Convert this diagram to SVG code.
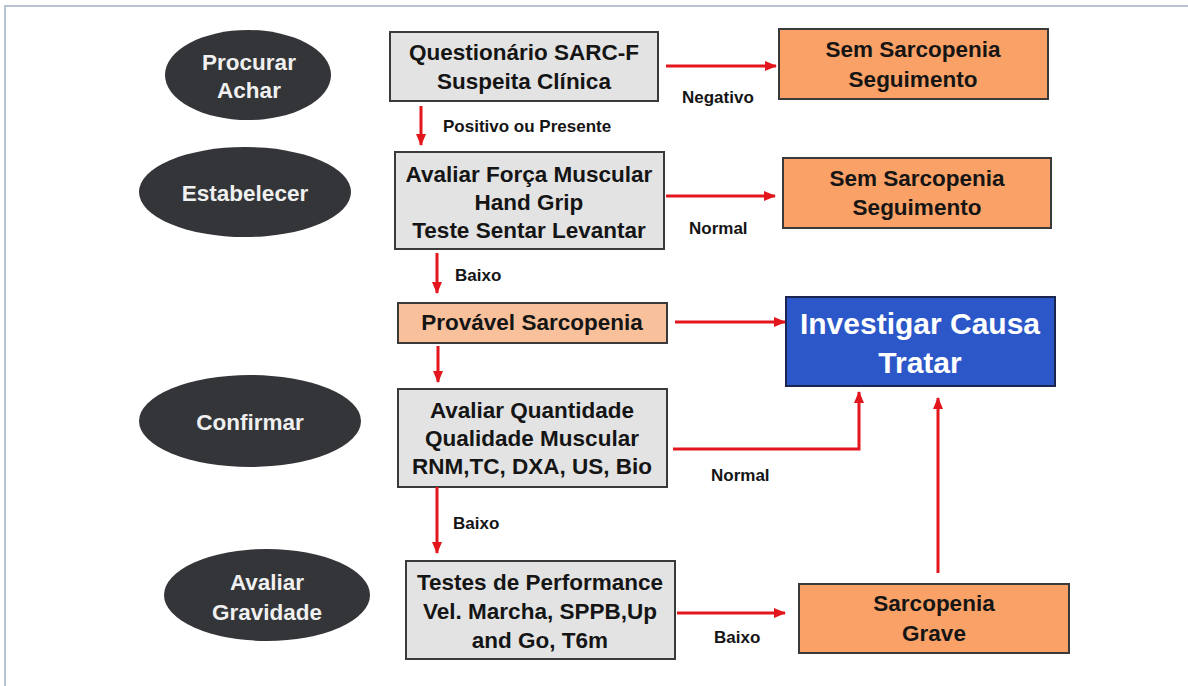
<svg xmlns="http://www.w3.org/2000/svg" width="1188" height="686" viewBox="0 0 1188 686">
<defs>
<marker id="ah" markerUnits="userSpaceOnUse" markerWidth="12" markerHeight="10" refX="11" refY="5" orient="auto">
<path d="M0,0 L12,5 L0,10 Z" fill="#e3161d"/>
</marker>
<style>
.ell{fill:#333538}
.et{fill:#f0f0f0;font-family:"Liberation Sans",Arial,sans-serif;font-weight:bold;font-size:22.5px;text-anchor:middle}
.gray{fill:#e3e3e3;stroke:#3a3a3a;stroke-width:2}
.org{fill:#f9a166;stroke:#3a3a3a;stroke-width:2}
.peach{fill:#f8c19c;stroke:#3a3a3a;stroke-width:2}
.blue{fill:#2b57c9;stroke:#1b2550;stroke-width:2}
.bt{fill:#151515;font-family:"Liberation Sans",Arial,sans-serif;font-weight:bold;font-size:22.5px;text-anchor:middle}
.wt{fill:#ffffff;font-family:"Liberation Sans",Arial,sans-serif;font-weight:bold;font-size:30px;text-anchor:middle}
.lbl{fill:#151515;font-family:"Liberation Sans",Arial,sans-serif;font-weight:bold;font-size:17px}
.con{fill:none;stroke:#e3161d;stroke-width:3;marker-end:url(#ah)}
</style>
</defs>
<rect x="0" y="0" width="1188" height="686" fill="#ffffff"/>
<path d="M5,686 V6 H1188" fill="none" stroke="#b9c3d6" stroke-width="2"/>

<g id="procurar"><ellipse class="ell" cx="248" cy="75" rx="83" ry="45"/><text class="et" x="249" y="70">Procurar</text><text class="et" x="249" y="98">Achar</text></g>
<g id="estabelecer"><ellipse class="ell" cx="245" cy="192" rx="106" ry="45"/><text class="et" x="245" y="201">Estabelecer</text></g>
<g id="confirmar"><ellipse class="ell" cx="250" cy="421" rx="111" ry="46"/><text class="et" x="250" y="430">Confirmar</text></g>
<g id="avaliar-gravidade"><ellipse class="ell" cx="267" cy="595" rx="103" ry="46"/><text class="et" x="267" y="590">Avaliar</text><text class="et" x="267" y="620">Gravidade</text></g>

<g id="questionario"><rect class="gray" x="390" y="32" width="268" height="69"/><text class="bt" x="524" y="60">Questionário SARC-F</text><text class="bt" x="524" y="89">Suspeita Clínica</text></g>
<g id="sem1"><rect class="org" x="779" y="29" width="269" height="70"/><text class="bt" x="913" y="57">Sem Sarcopenia</text><text class="bt" x="913" y="87">Seguimento</text></g>
<g id="forca"><rect class="gray" x="395" y="152" width="269" height="97"/><text class="bt" x="529" y="182">Avaliar Força Muscular</text><text class="bt" x="529" y="210">Hand Grip</text><text class="bt" x="529" y="238">Teste Sentar Levantar</text></g>
<g id="sem2"><rect class="org" x="783" y="158" width="268" height="70"/><text class="bt" x="917" y="186">Sem Sarcopenia</text><text class="bt" x="917" y="215">Seguimento</text></g>
<g id="provavel"><rect class="peach" x="398" y="303" width="269" height="40"/><text class="bt" x="532" y="330">Provável Sarcopenia</text></g>
<g id="investigar"><rect class="blue" x="786" y="297" width="269" height="89"/><text class="wt" x="920" y="334">Investigar Causa</text><text class="wt" x="920" y="373">Tratar</text></g>
<g id="quantidade"><rect class="gray" x="398" y="389" width="269" height="98"/><text class="bt" x="532" y="418">Avaliar Quantidade</text><text class="bt" x="532" y="446">Qualidade Muscular</text><text class="bt" x="532" y="474">RNM,TC, DXA, US, Bio</text></g>
<g id="testes"><rect class="gray" x="406" y="561" width="269" height="98"/><text class="bt" x="540" y="590">Testes de Performance</text><text class="bt" x="540" y="619">Vel. Marcha, SPPB,Up</text><text class="bt" x="540" y="648">and Go, T6m</text></g>
<g id="grave"><rect class="org" x="799" y="584" width="270" height="69"/><text class="bt" x="934" y="611">Sarcopenia</text><text class="bt" x="934" y="641">Grave</text></g>

<g id="connectors">
<path class="con" d="M666,66 H776"/>
<path class="con" d="M421,106 V145"/>
<path class="con" d="M666,196 H775"/>
<path class="con" d="M437,253 V293"/>
<path class="con" d="M438,346 V382"/>
<path class="con" d="M675,322 H785"/>
<path class="con" d="M673,449 H859 V392"/>
<path class="con" d="M437,487 V553"/>
<path class="con" d="M677,613 H785"/>
<path class="con" d="M938,573 V398"/>
<text class="lbl" x="682" y="103">Negativo</text>
<text class="lbl" x="443" y="132">Positivo ou Presente</text>
<text class="lbl" x="689" y="234">Normal</text>
<text class="lbl" x="455" y="281">Baixo</text>
<text class="lbl" x="711" y="481">Normal</text>
<text class="lbl" x="453" y="529">Baixo</text>
<text class="lbl" x="714" y="643">Baixo</text>
</g>
</svg>
